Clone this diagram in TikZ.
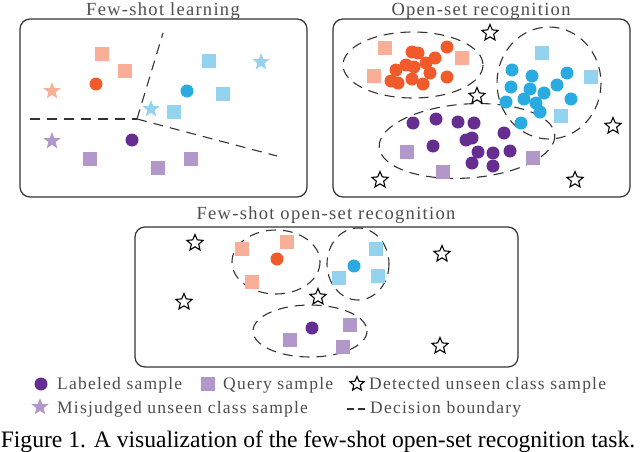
\documentclass[tikz,border=0pt]{standalone}
\usepackage{fontspec}
\setmainfont{Liberation Serif}
\newfontfamily\labfont[LetterSpace=7]{Liberation Serif}
\usetikzlibrary{shapes.geometric}
\definecolor{redc}{HTML}{F15A2B}
\definecolor{salm}{HTML}{F9AE98}
\definecolor{bluec}{HTML}{29ABE2}
\definecolor{lblue}{HTML}{93D3EF}
\definecolor{purc}{HTML}{662D91}
\definecolor{lpur}{HTML}{B197CA}
\definecolor{edge}{HTML}{333333}
\definecolor{txt}{HTML}{4D4D4D}
\tikzset{
 dot/.style={circle, fill=#1, inner sep=0pt, minimum size=13pt},
 sq/.style={rectangle, fill=#1, inner sep=0pt, minimum size=14pt},
 fstar/.style={star, star points=5, star point ratio=2.4, fill=#1, inner sep=0pt, minimum size=18pt},
 ostar/.style={star, star points=5, star point ratio=2.2, draw=black, line width=1.1pt, fill=white, inner sep=0pt, minimum size=17pt},
 panel/.style={draw=edge, line width=1.2pt, rounded corners=10pt},
 bound/.style={draw=edge, line width=1.1pt, dash pattern=on 10pt off 7pt},
 ttl/.style={font=\labfont\fontsize{18.5}{18.5}\selectfont, text=txt, inner sep=0pt},
 leg/.style={font=\labfont\fontsize{17.5}{17.5}\selectfont, text=txt, inner sep=0pt},
}
\begin{document}
\begin{tikzpicture}[x=1pt,y=-1pt]
\useasboundingbox (0,0) rectangle (640,451);
% panels
\draw[panel] (20,19) rectangle (307,197);
\draw[panel] (333,19) rectangle (630,197);
\draw[panel] (135,227) rectangle (518,367);
\node[ttl, anchor=base] (t1) at (163,15) {Few-shot learning};
\node[ttl, anchor=base] (t2) at (481,15) {Open-set recognition};
\node[ttl, anchor=base] (t3) at (326,219) {Few-shot open-set recognition};
% ---- panel 1: few-shot learning
\coordinate (j) at (137,119);
\coordinate (bl) at (30,119);
\coordinate (bt) at (163,33);
\coordinate (br) at (277,156);
\draw[bound] (bl) -- (j);
\draw[bound] (j) -- (bt);
\draw[bound] (j) -- (br);
\foreach \x/\y [count=\i] in {102/54,125/71} \node[sq=salm] (a-s\i) at (\x,\y) {};
\node[dot=redc] (a-r) at (96,84) {};
\node[fstar=salm] (a-st1) at (52,91) {};
\foreach \x/\y [count=\i] in {209/61,223/94,174/112} \node[sq=lblue] (a-b\i) at (\x,\y) {};
\node[dot=bluec] (a-bd) at (187,91) {};
\node[fstar=lblue] (a-st2) at (261,62) {};
\node[fstar=lblue] (a-st3) at (151,109) {};
\node[fstar=lpur] (a-st4) at (52,141) {};
\node[dot=purc] (a-pd) at (132,140) {};
\foreach \x/\y [count=\i] in {90/159,158/168,191/159} \node[sq=lpur] (a-p\i) at (\x,\y) {};
% ---- panel 2: open-set recognition
\draw[bound] (413,65) ellipse [x radius=70, y radius=33];
\draw[bound] (549,83) ellipse [x radius=52, y radius=56];
\draw[bound, rotate around={4:(467,141)}] (467,141) ellipse [x radius=88, y radius=37];
\foreach \x/\y [count=\i] in {412/52,418/53,447/47,435/58,406/65,414/67,426/63,396/70,430/73,391/81,398/83,412/79,423/84,447/77}
  \node[dot=redc] (b-r\i) at (\x,\y) {};
\foreach \x/\y [count=\i] in {512/70,532/76,567/73,511/87,530/89,557/85,544/93,524/99,506/102,536/103,540/112,571/99,521/123}
  \node[dot=bluec] (b-b\i) at (\x,\y) {};
\foreach \x/\y [count=\i] in {413/123,436/119,458/122,474/123,433/146,466/140,472/138,504/133,478/152,493/153,510/151,472/163,493/166}
  \node[dot=purc] (b-p\i) at (\x,\y) {};
\foreach \x/\y [count=\i] in {385/48,462/58,374/76} \node[sq=salm] (b-s\i) at (\x,\y) {};
\foreach \x/\y [count=\i] in {542/53,591/77,561/116} \node[sq=lblue] (b-q\i) at (\x,\y) {};
\foreach \x/\y [count=\i] in {407/152,443/172,533/158} \node[sq=lpur] (b-u\i) at (\x,\y) {};
\foreach \x/\y [count=\i] in {490/33,477/96,613/126,380/180,575/180} \node[ostar] (b-st\i) at (\x,\y) {};
% ---- panel 3: few-shot open-set recognition
\draw[bound] (276,262) ellipse [x radius=44, y radius=32];
\draw[bound] (358,264) ellipse [x radius=31, y radius=36];
\draw[bound] (310,331) ellipse [x radius=57, y radius=26];
\node[dot=redc] (c-r) at (277,259) {};
\foreach \x/\y [count=\i] in {242/249,287/242,252/282} \node[sq=salm] (c-s\i) at (\x,\y) {};
\node[dot=bluec] (c-b) at (354,266) {};
\foreach \x/\y [count=\i] in {376/249,339/278,378/276} \node[sq=lblue] (c-q\i) at (\x,\y) {};
\node[dot=purc] (c-p) at (312,328) {};
\foreach \x/\y [count=\i] in {350/325,290/340,343/347} \node[sq=lpur] (c-u\i) at (\x,\y) {};
\foreach \x/\y [count=\i] in {195/243,184/302,318/297,442/254,440/346} \node[ostar] (c-st\i) at (\x,\y) {};
% ---- legend
\node[dot=purc] (l1) at (41,384) {};
\node[leg, anchor=base west] (l1t) at (57,389) {Labeled sample};
\node[sq=lpur] (l2) at (208,384) {};
\node[leg, anchor=base west] (l2t) at (223,389) {Query sample};
\node[ostar, minimum size=15pt] (l3) at (357,384) {};
\node[leg, anchor=base west] (l3t) at (369,389) {Detected unseen class sample};
\node[fstar=lpur] (l4) at (40,407) {};
\node[leg, anchor=base west] (l4t) at (57,413) {Misjudged unseen class sample};
\coordinate (d1) at (347,409);
\coordinate (d2) at (365,409);
\draw[draw=edge, line width=1.1pt, dash pattern=on 7pt off 4pt] (d1) -- (d2);
\node[leg, anchor=base west] (l5t) at (370,413) {Decision boundary};
% caption
\node[anchor=base, inner sep=0pt, font=\fontsize{23.6}{24}\selectfont] (cap) at (318,447) {Figure 1. A visualization of the few-shot open-set recognition task.};
\end{tikzpicture}
\end{document}
